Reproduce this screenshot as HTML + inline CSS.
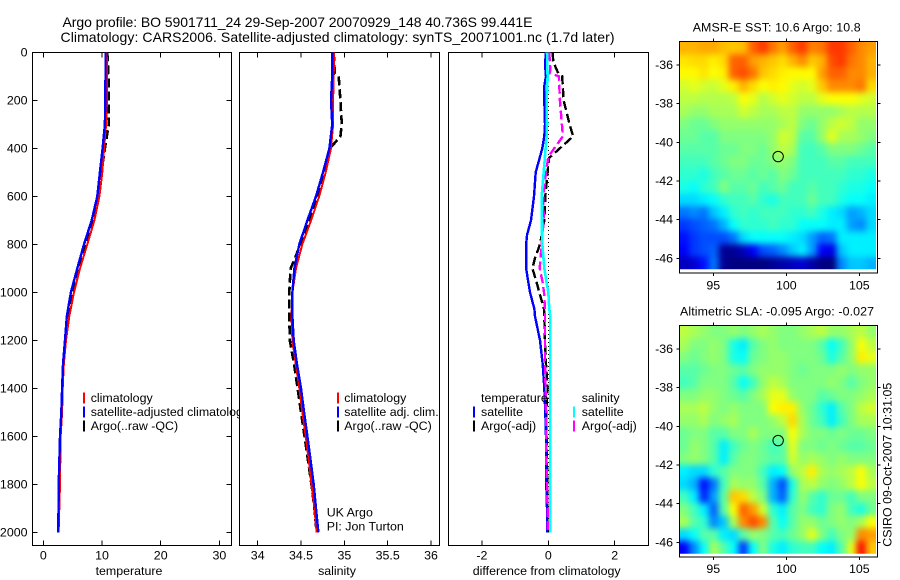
<!DOCTYPE html>
<html lang="en">
<head>
<meta charset="utf-8">
<title>Argo profile BO 5901711_24</title>
<style>
html,body{margin:0;padding:0;background:#fff;width:900px;height:580px;overflow:hidden}
svg{display:block}
text{font-family:"Liberation Sans",sans-serif;font-size:12.4px;fill:#000;dominant-baseline:central}
.ttl{font-size:14px}
</style>
</head>
<body>
<svg id="chart" xmlns="http://www.w3.org/2000/svg" width="900" height="580" viewBox="0 0 900 580">
  <defs>
    <filter id="soft" filterUnits="userSpaceOnUse" x="640" y="0" width="260" height="580" color-interpolation-filters="sRGB">
      <feGaussianBlur stdDeviation="3.2"/>
    </filter>
    <clipPath id="clip-sst"><rect x="679.3" y="41.7" width="196.7" height="227.6"/></clipPath>
    <clipPath id="clip-sla"><rect x="679.3" y="325.7" width="196.7" height="228"/></clipPath>
  </defs>
  <rect width="900" height="580" fill="#fff"/>
  <text class="ttl" x="62.5" y="22" textLength="470" lengthAdjust="spacing">Argo profile: BO 5901711_24 29-Sep-2007 20070929_148 40.736S 99.441E</text>
  <text class="ttl" x="60.5" y="37" textLength="554" lengthAdjust="spacing">Climatology: CARS2006. Satellite-adjusted climatology: synTS_20071001.nc (1.7d later)</text>

  <g id="panel-temp"></g>
  <g id="panel-sal"></g>
  <g id="panel-diff"></g>
  <g id="panel-sst"></g>
  <g id="panel-sla"></g>

  <text x="129" y="571" text-anchor="middle">temperature</text>
  <text x="337" y="571" text-anchor="middle">salinity</text>
  <text x="546.7" y="571" text-anchor="middle">difference from climatology</text>
  <text x="692.7" y="27.5" textLength="168" lengthAdjust="spacing">AMSR-E SST: 10.6 Argo: 10.8</text>
  <text x="680" y="311.5" textLength="194" lengthAdjust="spacing">Altimetric SLA: -0.095 Argo: -0.027</text>
  <text transform="translate(887.5,546.7) rotate(-90)" textLength="164" lengthAdjust="spacing">CSIRO 09-Oct-2007 10:31:05</text>
</svg>

<script>
// ---------- profile data ----------
const depthStd = [0,100,200,300,400,500,600,700,800,900,1000,1100,1200,1300,1400,1500,1600,1800,2000];
const tempClim = [10.8,10.85,10.85,10.7,10.35,10.05,9.55,8.7,7.5,6.25,5.23,4.43,3.87,3.5,3.3,3.2,2.95,2.85,2.6];
const tempSat  = [10.6,10.6,10.55,10.5,10.1,9.65,9.2,8.24,6.93,5.8,4.7,4.0,3.7,3.36,3.2,3.07,2.85,2.62,2.55];
const tempArgo = [10.9,11.1,11.15,11.15,10.5,9.9,9.26,8.4,7.27,6.0,4.95,4.15,3.8,3.4,3.25,3.15,2.9,2.75,2.55];

const depthSal = [0,100,200,300,400,500,600,700,800,900,1000,1100,1200,1300,1400,1500,1600,1700,1800,1900,2000];
const salClim  = [34.88,34.877,34.87,34.87,34.846,34.785,34.71,34.616,34.515,34.442,34.40,34.39,34.40,34.44,34.48,34.515,34.554,34.59,34.62,34.654,34.68];
const salSat   = [34.86,34.86,34.846,34.86,34.827,34.754,34.673,34.573,34.48,34.423,34.40,34.40,34.415,34.454,34.50,34.535,34.573,34.61,34.646,34.673,34.70];
const depthSalArgo = [0,88,100,200,300,350,400,500,600,700,800,865,900,1000,1100,1200,1300,1400,1500,1600,1700,1800,1900,2000];
const salArgo  = [34.877,34.89,34.935,34.954,34.97,34.954,34.835,34.77,34.693,34.60,34.49,34.423,34.38,34.365,34.365,34.37,34.42,34.46,34.50,34.54,34.58,34.62,34.654,34.68];

const depthDiff = [0,50,100,140,200,300,350,400,500,600,700,760,800,900,960,1000,1070,1100,1200,1300,1400,1500,1600,1700,1800,1900,2000];
const diffTempSat = [-0.07,-0.1,-0.07,-0.12,-0.12,-0.1,-0.12,-0.18,-0.38,-0.43,-0.52,-0.64,-0.67,-0.67,-0.6,-0.55,-0.42,-0.4,-0.25,-0.17,-0.12,-0.09,-0.07,-0.06,-0.06,-0.04,-0.04];
const diffSalSat  = [-0.04,-0.03,-0.02,-0.03,-0.05,-0.04,-0.05,-0.08,-0.14,-0.2,-0.19,-0.19,-0.18,-0.12,-0.05,0,0.03,0.06,0.06,0.06,0.06,0.06,0.06,0.06,0.06,0.06,0.06];
const depthDiffArgo = [0,40,88,100,200,254,300,350,441,500,600,700,800,858,900,960,1000,1070,1100,1200,1300,1400,1500,1600,1800,2000];
const diffTempArgo = [0.13,0.15,0.3,0.42,0.46,0.56,0.64,0.75,0.02,-0.02,-0.09,-0.12,-0.25,-0.4,-0.48,-0.35,-0.27,-0.13,-0.12,-0.1,-0.07,-0.02,-0.06,-0.05,-0.03,-0.02];
const depthDiffSal = [0,46,88,100,200,300,350,435,500,600,700,800,900,960,1000,1070,1100,1200,1300,1400,1500,1600,1700,1800,1900,2000];
const diffSalArgo = [0.02,0.06,0.05,0.32,0.35,0.41,0.44,0,-0.07,-0.15,-0.14,-0.2,-0.26,-0.17,-0.13,-0.1,-0.1,-0.1,-0.1,-0.08,-0.07,-0.06,-0.06,-0.04,-0.02,-0.02];
const zeroLineDiff = [0,0];
const zeroLineDepth = [140,2000];

// ---------- tick labels ----------
const depthTicks = [0,200,400,600,800,1000,1200,1400,1600,1800,2000];
const tempTicks = [0,10,20,30];
const salTicks = [34,34.5,35,35.5,36];
const diffTicks = [-2,0,2];
const lonTicks = [95,100,105];
const latTicks = [-36,-38,-40,-42,-44,-46];

// ---------- map data: colour level 0-100 on the jet scale ----------
const sstGrid = [
[70,70,71,71,69,68,69,78,82,76,72,78,82,75,76,82,82,78,74,72],
[65,66,66,64,66,78,78,72,70,68,66,70,74,68,70,80,82,76,74,70],
[63,63,65,62,64,78,80,76,68,66,64,63,63,63,72,78,78,74,74,70],
[58,60,58,57,60,64,70,66,62,64,63,60,58,60,68,74,74,74,76,66],
[56,56,55,55,55,56,62,60,55,58,60,58,56,56,60,62,62,62,60,58],
[54,52,52,54,54,54,58,56,54,54,56,56,52,52,52,52,54,56,55,55],
[50,48,48,50,52,52,52,52,52,52,54,56,50,48,52,56,58,56,52,52],
[48,48,46,46,50,50,50,50,50,52,58,56,46,46,52,60,54,54,52,50],
[46,46,46,46,48,48,50,50,48,52,56,54,44,44,46,50,50,50,48,46],
[44,44,44,46,48,50,50,48,48,50,52,50,44,44,44,46,46,44,44,44],
[42,42,40,44,46,48,48,46,48,46,50,48,44,44,44,44,44,42,42,40],
[40,38,42,44,50,46,46,48,44,46,48,44,44,46,44,44,42,40,40,38],
[34,34,36,38,42,44,44,46,42,40,44,44,44,48,44,44,40,38,38,36],
[24,26,24,32,36,42,44,42,44,44,44,42,42,44,40,36,34,28,30,34],
[18,20,22,24,30,38,42,42,42,44,42,42,38,38,38,36,36,28,26,34],
[14,18,20,20,20,24,34,38,38,38,38,36,34,28,22,24,36,36,36,36],
[12,18,20,22,2,2,6,12,20,22,26,32,36,28,12,10,32,36,36,36],
[6,8,14,24,2,0,0,0,0,2,4,6,8,4,0,0,26,32,32,30]
];
const slaGrid = [
[56,54,52,50,50,52,50,52,54,52,50,50,52,54,56,52,52,54,56,52],
[54,50,50,52,50,40,36,46,50,52,50,50,50,50,46,38,44,52,62,56],
[50,48,50,52,50,40,38,48,50,52,52,50,50,50,48,40,46,52,64,60],
[46,46,48,50,50,48,46,50,52,52,52,50,48,50,50,50,52,50,52,52],
[44,46,50,50,50,46,38,44,52,56,54,50,50,50,50,52,50,46,50,52],
[50,50,52,52,50,48,46,50,54,60,60,52,50,50,46,48,50,50,52,54],
[54,54,56,52,50,52,50,50,50,62,64,64,52,48,42,36,46,50,56,58],
[52,52,54,50,52,54,50,50,50,52,56,66,54,48,44,36,44,50,54,54],
[48,50,50,46,46,50,50,54,50,50,50,62,54,50,50,48,50,48,48,50],
[48,52,50,46,36,44,48,50,48,44,46,60,50,50,48,50,48,46,46,48],
[50,52,50,46,36,46,50,50,48,46,46,58,52,54,52,50,52,50,50,50],
[36,34,34,42,46,50,50,50,44,36,38,52,56,64,54,52,54,56,62,54],
[34,30,14,24,44,54,52,52,46,30,20,40,54,56,52,50,52,56,62,56],
[44,36,16,28,46,68,66,56,50,30,22,42,52,46,42,48,48,44,50,50],
[50,44,36,22,46,62,78,72,58,42,36,46,50,44,42,50,52,44,40,48],
[54,46,42,26,32,54,74,80,74,46,38,46,52,52,48,50,52,50,54,62],
[34,38,46,46,36,34,46,52,50,46,44,48,52,60,50,44,50,52,74,72],
[12,26,38,54,46,38,18,38,50,40,36,42,44,44,38,36,46,60,86,68]
];
const argoLon = [99.441];
const argoLat = [-40.736];

// ---------- helpers / axis functions ----------
const NS = 'http://www.w3.org/2000/svg';
function make(parent, tag, props, content) {
  const el = document.createElementNS(NS, tag);
  for (const k in props) el.setAttribute(k, props[k]);
  if (content !== undefined) el.textContent = content;
  parent.appendChild(el);
  return el;
}
const depthY = d => 52.3 + 0.24 * d;
const tempX = v => 43.3 + 5.87 * v;
const salX = v => 257.7 + 86.65 * (v - 34);
const diffX = v => 548.3 + 33.2 * v;
const lonX = v => 713.3 + 14.6 * (v - 95);
const TOP = 52.3, BOTTOM = 545.7;

function drawLine(parent, xs, ys, xf, color, width, dash) {
  const pts = xs.map((v, i) => xf(v).toFixed(1) + ',' + depthY(ys[i]).toFixed(1)).join(' ');
  const props = {points: pts, fill: 'none', stroke: color, 'stroke-width': width, 'shape-rendering': 'crispEdges'};
  if (dash) props['stroke-dasharray'] = dash;
  return make(parent, 'polyline', props);
}

function drawFrame(parent, left, right, xTicks, xf) {
  const bg = make(parent, 'rect', {x: left, y: TOP, width: right - left, height: BOTTOM - TOP, fill: '#fff', stroke: '#000', 'stroke-width': 1, 'shape-rendering': 'crispEdges'});
  
  
  xTicks.forEach(t => {
    const x = xf(t);
    const a = make(parent, 'path', {d: `M${x} ${TOP}v5M${x} ${BOTTOM}v-5`, stroke: '#000', 'stroke-width': 1, 'shape-rendering': 'crispEdges', fill: 'none'});
    
    
    const l = make(parent, 'text', {x: x, y: 555.7, 'text-anchor': 'middle'}, String(t));
    
    
  });
}

function drawLegendRow(parent, markX, textX, y, color, label) {
  if (color) {
    const m = make(parent, 'line', {x1: markX, x2: markX, y1: y - 5.5, y2: y + 5.5, stroke: color, 'stroke-width': 2, 'shape-rendering': 'crispEdges'});
    
    
  }
  const t = make(parent, 'text', {x: textX, y: y}, label);
  
  
}

function jet(level) {
  const v = Math.max(0, Math.min(100, level)) / 100;
  const ch = c => Math.round(255 * Math.max(0, Math.min(1, 1.5 - Math.abs(4 * v - c))));
  return `rgb(${ch(3)},${ch(2)},${ch(1)})`;
}

function drawMap(parent, grid, opts) {
  const latY = v => opts.y36 + 19.33 * (-36 - v);
  const left = 679.3, right = 876, top = opts.top, bot = opts.imgBottom;
  const clip = make(parent, 'g', {'clip-path': `url(#${opts.clip})`});
  const soft = make(clip, 'g', {filter: 'url(#soft)'});
  const nr = grid.length, nc = grid[0].length;
  const cw = (right - left) / nc, ch = (bot - top) / nr;
  grid.forEach((row, r) => row.forEach((val, c) => {
    const x0 = c === 0 ? left - 14 : left + c * cw;
    const x1 = c === nc - 1 ? right + 14 : left + (c + 1) * cw;
    const y0 = r === 0 ? top - 14 : top + r * ch;
    const y1 = r === nr - 1 ? bot + 14 : top + (r + 1) * ch;
    const cell = make(soft, 'rect', {x: x0.toFixed(2), y: y0.toFixed(2), width: (x1 - x0 + 0.4).toFixed(2), height: (y1 - y0 + 0.4).toFixed(2), fill: jet(val)});
    
    
  }));
  const box = make(parent, 'rect', {x: left, y: top, width: 198, height: opts.bottom - top, fill: 'none', stroke: '#000', 'stroke-width': 1, 'shape-rendering': 'crispEdges'});
  
  
  lonTicks.forEach(t => {
    const x = lonX(t);
    const k = make(parent, 'path', {d: `M${x} ${top}v-3M${x} ${opts.bottom}v3`, stroke: '#000', fill: 'none', 'shape-rendering': 'crispEdges'});
    
    
    const l = make(parent, 'text', {x: x, y: opts.labelY, 'text-anchor': 'middle'}, String(t));
    
    
  });
  latTicks.forEach(t => {
    const y = latY(t);
    const k = make(parent, 'path', {d: `M${left} ${y}h-3M${left + 198} ${y}h3`, stroke: '#000', fill: 'none', 'shape-rendering': 'crispEdges'});
    
    
    const l = make(parent, 'text', {x: 673, y: y, 'text-anchor': 'end'}, String(t));
    
    
  });
  const mark = make(parent, 'circle', {cx: lonX(argoLon[0]), cy: latY(argoLat[0]), r: 5.2, fill: 'none', stroke: '#000', 'stroke-width': 1});
  
  
}

// ---------- temperature panel ----------
const pT = document.getElementById('panel-temp');
drawFrame(pT, 32.3, 231.3, tempTicks, tempX);
depthTicks.forEach(d => {
  const y = depthY(d);
  const k = make(pT, 'path', {d: `M32.3 ${y}h5M231.3 ${y}h-5`, stroke: '#000', fill: 'none', 'shape-rendering': 'crispEdges'});
  
  
  const l = make(pT, 'text', {x: 27.5, y: y, 'text-anchor': 'end'}, String(d));
  
  
});
let s;
s = drawLine(pT, tempArgo, depthStd, tempX, '#000', 2.6, '9 4');


s = drawLine(pT, tempClim, depthStd, tempX, '#f00', 2);


s = drawLine(pT, tempSat, depthStd, tempX, '#00f', 2.4);


drawLegendRow(pT, 84, 90.7, 398, '#f00', 'climatology');
drawLegendRow(pT, 84, 90.7, 412, '#00f', 'satellite-adjusted climatology');
drawLegendRow(pT, 84, 90.7, 426, '#000', 'Argo(..raw -QC)');

// ---------- salinity panel ----------
const pS = document.getElementById('panel-sal');
drawFrame(pS, 239.3, 439.3, salTicks, salX);
s = drawLine(pS, salArgo, depthSalArgo, salX, '#000', 2.6, '9 4');


s = drawLine(pS, salClim, depthSal, salX, '#f00', 2);


s = drawLine(pS, salSat, depthSal, salX, '#00f', 2.4);


drawLegendRow(pS, 338, 344.3, 398, '#f00', 'climatology');
drawLegendRow(pS, 338, 344.3, 412, '#00f', 'satellite adj. clim.');
drawLegendRow(pS, 338, 344.3, 426, '#000', 'Argo(..raw -QC)');
drawLegendRow(pS, 0, 326.7, 512.7, null, 'UK Argo');
drawLegendRow(pS, 0, 326.7, 526.7, null, 'PI: Jon Turton');

// ---------- difference panel ----------
const pD = document.getElementById('panel-diff');
drawFrame(pD, 448.3, 648.3, diffTicks, diffX);
s = drawLine(pD, zeroLineDiff, zeroLineDepth, diffX, '#000', 1, '1 3');


s = drawLine(pD, diffTempArgo, depthDiffArgo, diffX, '#000', 2.4, '9 4');


s = drawLine(pD, diffTempSat, depthDiff, diffX, '#00f', 2.4);


s = drawLine(pD, diffSalArgo, depthDiffSal, diffX, '#f0f', 2.4, '9 4');


s = drawLine(pD, diffSalSat, depthDiff, diffX, '#0ff', 2.6);


drawLegendRow(pD, 0, 481, 398, null, 'temperature');
drawLegendRow(pD, 474, 481, 412, '#00f', 'satellite');
drawLegendRow(pD, 474, 481, 426, '#000', 'Argo(-adj)');
drawLegendRow(pD, 0, 581.7, 398, null, 'salinity');
drawLegendRow(pD, 574, 581.7, 412, '#0ff', 'satellite');
drawLegendRow(pD, 574, 581.7, 426, '#f0f', 'Argo(-adj)');

// ---------- maps ----------
drawMap(document.getElementById('panel-sst'), sstGrid, {clip: 'clip-sst', top: 41.7, imgBottom: 269.3, bottom: 273, y36: 65, labelY: 285.3});
drawMap(document.getElementById('panel-sla'), slaGrid, {clip: 'clip-sla', top: 325.7, imgBottom: 553.7, bottom: 557, y36: 349, labelY: 569});
</script>
</body>
</html>
